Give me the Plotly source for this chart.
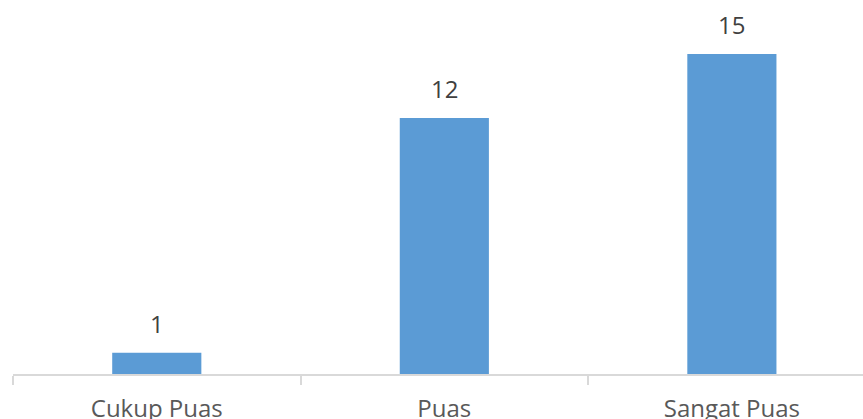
import plotly.graph_objects as go

categories = ["Cukup Puas", "Puas", "Sangat Puas"]
counts = [1, 12, 15]

BAR_COLOR = "#5b9bd5"
AXIS_COLOR = "#d9d9d9"
FONT = "Open Sans"

fig = go.Figure()
fig.add_trace(go.Bar(
    x=categories,
    y=counts,
    marker=dict(color=BAR_COLOR, line=dict(width=0)),
    width=0.31,
    hoverinfo="x+y",
))

# value labels above each bar
for cat, val in zip(categories, counts):
    fig.add_annotation(
        x=cat, y=val, text=str(val), showarrow=False,
        yanchor="bottom", yshift=11,
        font=dict(family=FONT, size=24, color="#404040"),
    )

fig.update_layout(
    width=863, height=419,
    margin=dict(l=13, r=0, t=0, b=45),
    paper_bgcolor="white", plot_bgcolor="white",
    showlegend=False,
)
fig.update_xaxes(
    range=[-0.5, 2.456], automargin=False,
    showline=True, linecolor=AXIS_COLOR, linewidth=1.5,
    ticks="outside", tickson="boundaries", ticklen=9, tickcolor=AXIS_COLOR, tickwidth=1.5,
    ticklabelstandoff=12,
    showgrid=False, zeroline=False,
    tickfont=dict(family=FONT, size=24, color="#595959"),
)
fig.update_yaxes(
    range=[0, 17.53], visible=False, showgrid=False, zeroline=False,
)

fig.write_html("out.html")
